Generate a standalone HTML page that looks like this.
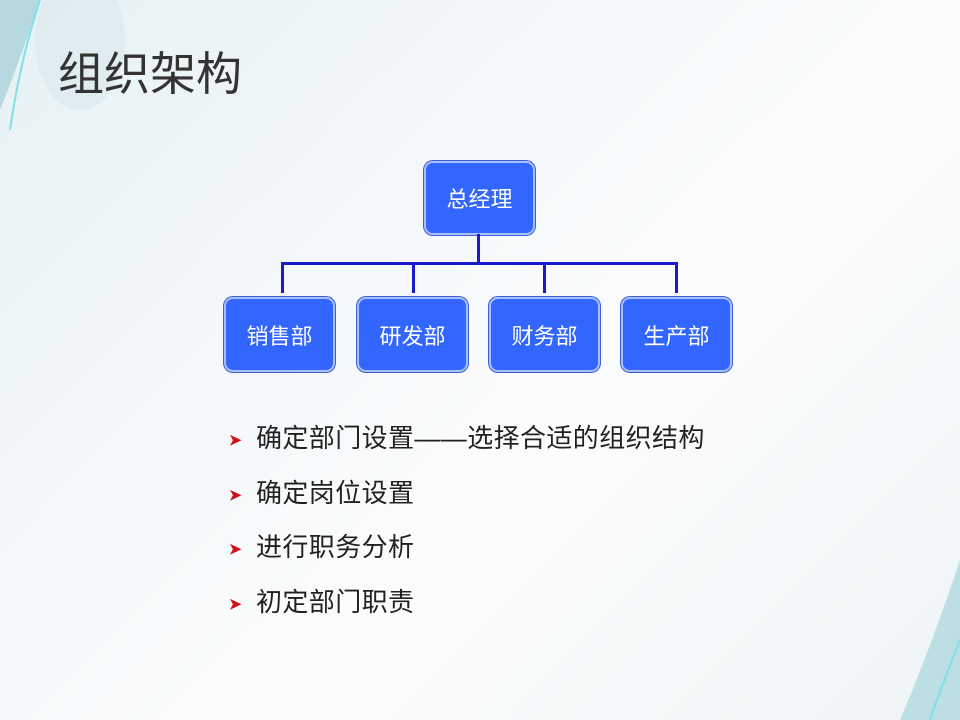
<!DOCTYPE html>
<html><head><meta charset="utf-8"><style>
body{margin:0;width:960px;height:720px;overflow:hidden;position:relative;font-family:"Liberation Sans","Noto Sans CJK SC",sans-serif;background:linear-gradient(135deg,#e6f1f4 0%,#f4f8fa 35%,#fbfcfd 60%,#eef4f6 100%);}
.box{position:absolute;background:#3366ff;border:2px solid #a9bff8;border-radius:9px;box-shadow:0 0 0 1px #3b5fd6;color:#fff;font-size:22px;display:flex;align-items:center;justify-content:center;box-sizing:border-box;}
.ln{position:absolute;background:#1a1acc;}
.b{position:absolute;left:229px;color:#d0101a;font-size:15px;font-weight:bold;}
.t{position:absolute;left:256px;color:#222;font-size:26px;letter-spacing:0.4px;line-height:30px;white-space:nowrap;}
</style></head><body>
<svg width="960" height="720" style="position:absolute;left:0;top:0">
<path d="M0,0 L40,0 Q20,60 0,110 Z" fill="#9fcfd6" opacity="0.7"/>
<path d="M40,0 Q20,60 10,130" stroke="#7fe0ea" stroke-width="2" fill="none"/>
<ellipse cx="80" cy="40" rx="45" ry="70" fill="#d9e8ec" opacity="0.6"/>
<path d="M960,560 L960,720 L900,720 Q930,650 960,560 Z" fill="#a6d6dc" opacity="0.7"/>
<path d="M960,640 Q940,690 930,720" stroke="#7fe0ea" stroke-width="2" fill="none"/>
</svg>
<div style="position:absolute;left:58px;top:44px;font-size:46px;color:#333;line-height:60px">组织架构</div>
<div class="box" style="left:424px;top:161px;width:111px;height:74px">总经理</div>
<div class="ln" style="left:477px;top:234px;width:3px;height:30px"></div>
<div class="ln" style="left:281px;top:262px;width:397px;height:3px"></div>
<div class="ln" style="left:281px;top:262px;width:3px;height:31px"></div>
<div class="ln" style="left:412px;top:262px;width:3px;height:31px"></div>
<div class="ln" style="left:543px;top:262px;width:3px;height:31px"></div>
<div class="ln" style="left:675px;top:262px;width:3px;height:31px"></div>
<div class="box" style="left:224px;top:297px;width:111px;height:75px">销售部</div>
<div class="box" style="left:357px;top:297px;width:111px;height:75px">研发部</div>
<div class="box" style="left:489px;top:297px;width:111px;height:75px">财务部</div>
<div class="box" style="left:621px;top:297px;width:111px;height:75px">生产部</div>
<div class="b" style="top:431px">&#10148;</div><div class="t" style="top:423px">确定部门设置——选择合适的组织结构</div>
<div class="b" style="top:486px">&#10148;</div><div class="t" style="top:478px">确定岗位设置</div>
<div class="b" style="top:540px">&#10148;</div><div class="t" style="top:532px">进行职务分析</div>
<div class="b" style="top:595px">&#10148;</div><div class="t" style="top:587px">初定部门职责</div>
</body></html>
